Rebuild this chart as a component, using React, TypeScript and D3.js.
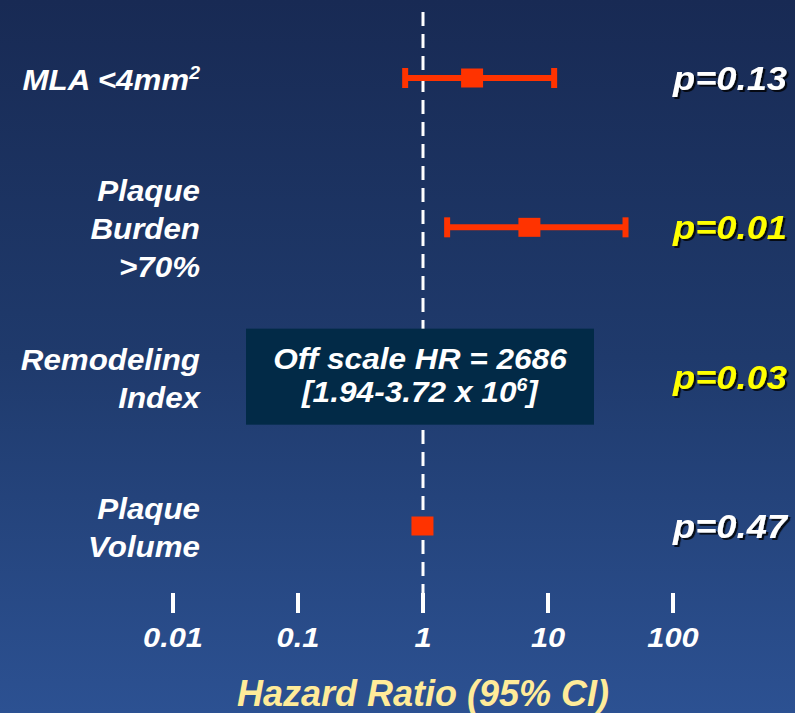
import React from "react";
import { scaleLog, scalePoint } from "d3";

// rows of the forest plot
const labelLines = [
  ["MLA <4mm^2^"],
  ["Plaque", "Burden", ">70%"],
  ["Remodeling", "Index"],
  ["Plaque", "Volume"],
];
const hazardRatio = [2.47, 7.1, 2686, 0.99];
const ciLow = [0.72, 1.56, 1.94, null];
const ciHigh = [11.2, 41.7, 3.72e6, null];
const pValues = ["p=0.13", "p=0.01", "p=0.03", "p=0.47"];
const significant = [false, true, true, false];
const offScaleText = ["Off scale HR = 2686", "[1.94-3.72 x 10^6^]"];

const ticks = [0.01, 0.1, 1, 10, 100];
const tickLabels = ["0.01", "0.1", "1", "10", "100"];
const axisTitle = "Hazard Ratio (95% CI)";

const W = 795;
const H = 713;
const RED = "#ff3300";
const FONT = "'Liberation Sans', Arial, sans-serif";

// renders "abc^2^def" as abc, superscript 2, then def back on the baseline
function Sup({ text, size }: { text: string; size: number }) {
  const [base, sup, rest] = text.split("^");
  const shift = size * 0.38;
  return (
    <>
      {base}
      {sup && (
        <tspan fontSize={size * 0.62} dy={-shift}>
          {sup}
        </tspan>
      )}
      {rest && <tspan dy={shift}>{rest}</tspan>}
    </>
  );
}

export default function App() {
  const x = scaleLog().domain([0.01, 100]).range([173, 673]);
  const y = scalePoint<number>()
    .domain(labelLines.map((d, i) => i))
    .range([78, 526]);
  const x1 = x(1);

  return (
    <svg
      width={W}
      height={H}
      style={{ position: "absolute", left: 0, top: 0 }}
      fontFamily={FONT}
      fontStyle="italic"
      fontWeight="bold"
    >
      <defs>
        <linearGradient id="bg" x1="0" y1="0" x2="0" y2="1">
          <stop offset="0" stopColor="#182a54" />
          <stop offset="0.5" stopColor="#1f3a6c" />
          <stop offset="1" stopColor="#2c5192" />
        </linearGradient>
        <filter id="shadow" x="-10%" y="-20%" width="130%" height="150%">
          <feDropShadow dx={2} dy={2} stdDeviation={0.6} floodColor="#000" floodOpacity={0.8} />
        </filter>
      </defs>
      <rect width={W} height={H} fill="url(#bg)" />

      {/* reference line at HR = 1 */}
      <line
        x1={x1}
        x2={x1}
        y1={12}
        y2={610}
        stroke="#fff"
        strokeWidth={3}
        strokeDasharray="14 8"
      />

      {/* axis ticks */}
      {ticks.map((t, i) => (
        <g key={t}>
          <rect x={x(t) - 2} y={593} width={4} height={20} fill="#fff" />
          <text
            transform={`translate(${x(t)},647) scale(1.1,1)`}
            textAnchor="middle"
            fontSize={28}
            fill="#fff"
          >
            {tickLabels[i]}
          </text>
        </g>
      ))}

      {/* row labels */}
      {labelLines.map((lines, i) => (
        <g key={i}>
          {lines.map((ln, j) => (
            <text
              key={j}
              transform={`translate(200,${y(i)! + 12 + (j - (lines.length - 1) / 2) * 38}) scale(1.08,1)`}
              textAnchor="end"
              fontSize={29}
              fill="#fff"
            >
              <Sup text={ln} size={29} />
            </text>
          ))}
        </g>
      ))}

      {/* estimates */}
      {hazardRatio.map((hr, i) => {
        const cy = y(i)!;
        if (hr > x.domain()[1]) {
          return (
            <g key={i}>
              <rect x={246} y={cy - 48} width={348} height={96} fill="#022a47" />
              {offScaleText.map((t, j) => (
                <text
                  key={j}
                  transform={`translate(${x1 - 3},${cy - 8 + j * 33}) scale(1.09,1)`}
                  textAnchor="middle"
                  fontSize={29}
                  fill="#fff"
                >
                  <Sup text={t} size={29} />
                </text>
              ))}
            </g>
          );
        }
        const lo = ciLow[i];
        const hi = ciHigh[i];
        return (
          <g key={i}>
            {lo != null && hi != null && (
              <>
                <line x1={x(lo)} x2={x(hi)} y1={cy} y2={cy} stroke={RED} strokeWidth={6} />
                <rect x={x(lo) - 3} y={cy - 10} width={6} height={20} fill={RED} />
                <rect x={x(hi) - 3} y={cy - 10} width={6} height={20} fill={RED} />
              </>
            )}
            <rect x={x(hr) - 11} y={cy - 9.5} width={22} height={19} fill={RED} />
          </g>
        );
      })}

      {/* p values */}
      {pValues.map((p, i) => (
        <text
          key={p}
          transform={`translate(787,${y(i)! + 12}) scale(1.1,1)`}
          textAnchor="end"
          fontSize={33}
          fill={significant[i] ? "#ffff00" : "#fff"}
          filter="url(#shadow)"
        >
          {p}
        </text>
      ))}

      {/* axis title */}
      <text x={x1} y={706} textAnchor="middle" fontSize={36} fill="#ffeb99">
        {axisTitle}
      </text>
    </svg>
  );
}
